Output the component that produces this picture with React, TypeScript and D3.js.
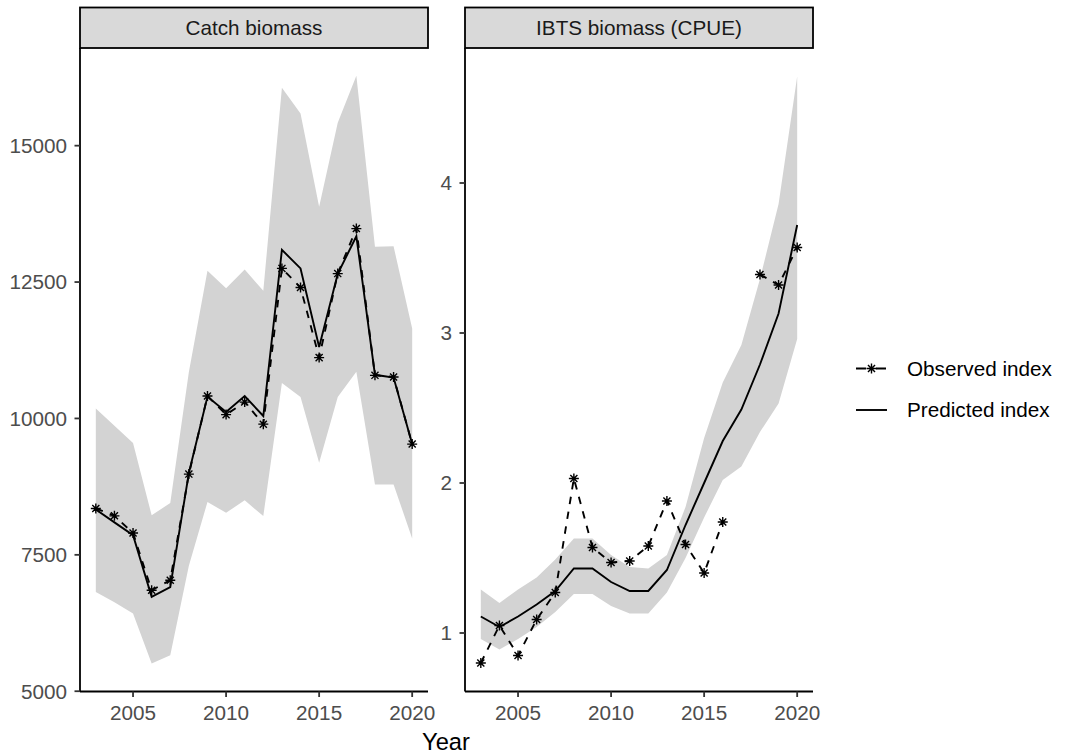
import React from "react";
import * as d3 from "d3";

const years = d3.range(2003, 2021);

// Catch biomass panel
const catchObs = [8350, 8215, 7900, 6850, 7035, 8980, 10410, 10070, 10300, 9895, 12750, 12400, 11115, 12655, 13480, 10790, 10760, 9530];
const catchPred = [8330, 8095, 7860, 6730, 6910, 9000, 10400, 10120, 10410, 10045, 13090, 12750, 11310, 12650, 13340, 10800, 10750, 9530];
const catchUpper = [10180, 9865, 9550, 8225, 8450, 10850, 12705, 12385, 12730, 12340, 16060, 15590, 13880, 15420, 16280, 13145, 13155, 11650];
const catchLower = [6820, 6630, 6425, 5510, 5660, 7300, 8470, 8270, 8500, 8210, 10650, 10395, 9190, 10395, 10855, 8790, 8790, 7800];

// IBTS biomass (CPUE) panel
const ibtsObs: (number | null)[] = [0.80, 1.05, 0.85, 1.09, 1.27, 2.03, 1.57, 1.47, 1.48, 1.58, 1.88, 1.59, 1.40, 1.74, null, 3.39, 3.32, 3.57];
const ibtsPred = [1.11, 1.04, 1.11, 1.19, 1.28, 1.43, 1.43, 1.34, 1.28, 1.28, 1.42, 1.72, 2.00, 2.28, 2.49, 2.79, 3.13, 3.72];
const ibtsUpper = [1.29, 1.20, 1.29, 1.37, 1.49, 1.63, 1.63, 1.52, 1.44, 1.43, 1.52, 1.84, 2.30, 2.67, 2.92, 3.36, 3.86, 4.71];
const ibtsLower = [0.96, 0.89, 0.96, 1.04, 1.14, 1.26, 1.26, 1.18, 1.13, 1.13, 1.27, 1.50, 1.77, 2.02, 2.11, 2.34, 2.53, 2.96];

const xTicks = [2005, 2010, 2015, 2020];
const catchTicks = [5000, 7500, 10000, 12500, 15000];
const ibtsTicks = [1, 2, 3, 4];
const panelTitles = ["Catch biomass", "IBTS biomass (CPUE)"];
const legendLabels = ["Observed index", "Predicted index"];

const FONT = "'Liberation Sans', Arial, Helvetica, sans-serif";
const TOP = 48;
const BOTTOM = 691.5;
const FS = 20.7;
const LW = 1.9;
const AXW = 1.8;

function starPath(cx: number, cy: number, r: number) {
  const d = r * Math.SQRT1_2;
  return `M${cx - r},${cy}L${cx + r},${cy}M${cx},${cy - r}L${cx},${cy + r}M${cx - d},${cy - d}L${cx + d},${cy + d}M${cx - d},${cy + d}L${cx + d},${cy - d}`;
}

type PanelProps = {
  left: number;
  right: number;
  yDomain: [number, number];
  title: string;
  obs: (number | null)[];
  pred: number[];
  upper: number[];
  lower: number[];
  yTicks: number[];
};

function Panel({ left, right, yDomain, title, obs, pred, upper, lower, yTicks }: PanelProps) {
  const x = d3.scaleLinear().domain([2002.15, 2020.85]).range([left, right]);
  const y = d3.scaleLinear().domain(yDomain).range([BOTTOM, TOP]);
  const area = d3
    .area<number>()
    .x((_, i) => x(years[i]))
    .y0((_, i) => y(lower[i]))
    .y1((_, i) => y(upper[i]));
  const line = d3
    .line<number | null>()
    .defined((d) => d !== null)
    .x((_, i) => x(years[i]))
    .y((d) => y(d as number));
  return (
    <g>
      <path d={area(upper) || ""} fill="#D3D3D3" />
      <path d={line(obs) || ""} fill="none" stroke="#000" strokeWidth={LW} strokeDasharray="7.5,7.5" />
      <path d={line(pred) || ""} fill="none" stroke="#000" strokeWidth={LW} />
      {obs.map((d, i) =>
        d === null ? null : (
          <path key={i} d={starPath(x(years[i]), y(d), 5)} stroke="#000" strokeWidth={1.4} fill="none" />
        )
      )}
      {/* strip */}
      <rect x={left} y={7.5} width={right - left} height={TOP - 7.5} fill="#D9D9D9" stroke="#000" strokeWidth={AXW} />
      <text x={(left + right) / 2} y={35} textAnchor="middle" fontSize={FS} fill="#1A1A1A" fontFamily={FONT}>
        {title}
      </text>
      {/* axes */}
      <line x1={left} x2={left} y1={TOP} y2={BOTTOM} stroke="#000" strokeWidth={AXW} />
      <line x1={left} x2={right} y1={BOTTOM} y2={BOTTOM} stroke="#000" strokeWidth={AXW} />
      {yTicks.map((t) => (
        <g key={t}>
          <line x1={left - 5.5} x2={left} y1={y(t)} y2={y(t)} stroke="#333" strokeWidth={AXW} />
          <text x={left - 13} y={y(t) + FS * 0.358} textAnchor="end" fontSize={FS} fill="#4D4D4D" fontFamily={FONT}>
            {t}
          </text>
        </g>
      ))}
      {xTicks.map((t) => (
        <g key={t}>
          <line x1={x(t)} x2={x(t)} y1={BOTTOM} y2={BOTTOM + 5.5} stroke="#333" strokeWidth={AXW} />
          <text x={x(t)} y={720} textAnchor="middle" fontSize={FS} fill="#4D4D4D" fontFamily={FONT}>
            {t}
          </text>
        </g>
      ))}
    </g>
  );
}

export default function App() {
  const lx1 = 856;
  const lx2 = 887;
  const ly = [368.5, 410];
  return (
    <svg width={1065} height={756} style={{ position: "absolute", left: 0, top: 0, background: "#fff" }}>
      <rect width={1065} height={756} fill="#fff" />
      <Panel
        left={80}
        right={428}
        yDomain={[4995, 16790]}
        title={panelTitles[0]}
        obs={catchObs}
        pred={catchPred}
        upper={catchUpper}
        lower={catchLower}
        yTicks={catchTicks}
      />
      <Panel
        left={465}
        right={813}
        yDomain={[0.61, 4.9]}
        title={panelTitles[1]}
        obs={ibtsObs}
        pred={ibtsPred}
        upper={ibtsUpper}
        lower={ibtsLower}
        yTicks={ibtsTicks}
      />
      <text x={446} y={750} textAnchor="middle" fontSize={23.7} fill="#000" fontFamily={FONT}>
        Year
      </text>
      {/* legend */}
      <line x1={lx1} x2={lx2} y1={ly[0]} y2={ly[0]} stroke="#000" strokeWidth={LW} strokeDasharray="10,10" />
      <path d={starPath((lx1 + lx2) / 2, ly[0], 5)} stroke="#000" strokeWidth={1.4} fill="none" />
      <line x1={lx1} x2={lx2} y1={ly[1]} y2={ly[1]} stroke="#000" strokeWidth={LW} />
      {legendLabels.map((l, i) => (
        <text key={l} x={907} y={ly[i] + FS * 0.358} fontSize={FS} fill="#000" fontFamily={FONT}>
          {l}
        </text>
      ))}
    </svg>
  );
}
